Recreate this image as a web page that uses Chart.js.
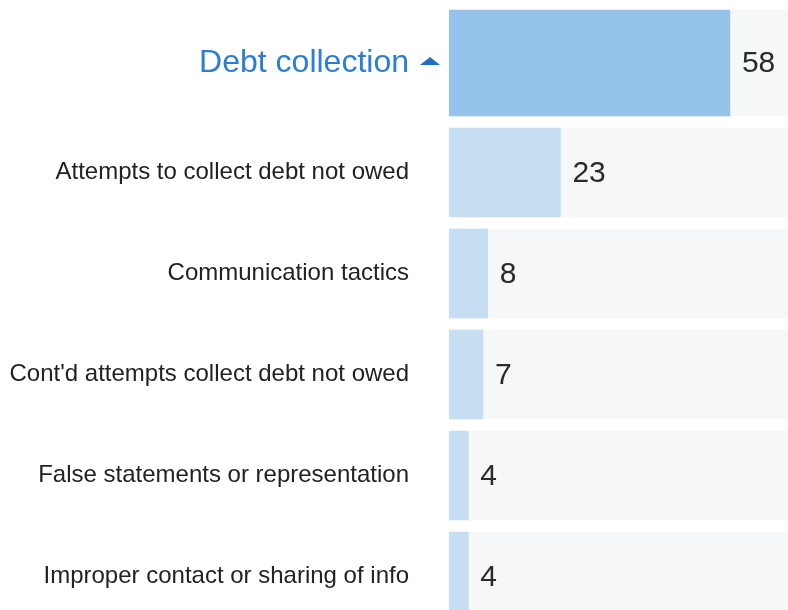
<!DOCTYPE html>
<html>
<head>
<meta charset="utf-8">
<script src="https://cdn.jsdelivr.net/npm/chart.js@4"></script>
<style>
  html, body { margin: 0; padding: 0; background: #fff; overflow: hidden; }
  #wrap { width: 788px; height: 610px; overflow: hidden; }
</style>
</head>
<body>
<div id="wrap"><canvas id="chart" width="788" height="627"></canvas></div>
<script>
// parent row + its sub-issues
const parentLabel = 'Debt collection';
const parentValue = [58];
const subLabels = [
  'Attempts to collect debt not owed',
  'Communication tactics',
  "Cont'd attempts collect debt not owed",
  'False statements or representation',
  'Improper contact or sharing of info'
];
const subValues = [23, 8, 7, 4, 4];
const axisMax = 70;

const FONT = '"Liberation Sans", Arial, Helvetica, sans-serif';

// draws the numbers after each bar and the little caret next to the parent label
const valueLabels = {
  id: 'valueLabels',
  afterDatasetsDraw(chart) {
    const ctx = chart.ctx;
    ctx.save();
    ctx.font = '30px ' + FONT;
    ctx.fillStyle = '#2b2b2b';
    ctx.textBaseline = 'middle';
    ctx.textAlign = 'left';
    chart.data.datasets.forEach((ds, i) => {
      if (!ds.showValue) return;
      chart.getDatasetMeta(i).data.forEach((bar, j) => {
        ctx.fillText(String(ds.data[j]), bar.x + 12, bar.y + 1);
      });
    });

    // caret
    const y = chart.scales.yP.getPixelForValue(0);
    const x = chart.chartArea.left;
    ctx.fillStyle = '#1f6fc8';
    ctx.beginPath();
    ctx.moveTo(x - 29, y + 2);
    ctx.lineTo(x - 9, y + 2);
    ctx.lineTo(x - 19, y - 6);
    ctx.closePath();
    ctx.fill();
    ctx.restore();
  }
};

const yAxis = (labels, weight, size, color) => ({
  type: 'category',
  labels: labels,
  position: 'left',
  stack: 'rows',
  stackWeight: weight,
  offset: true,
  grid: { display: false, drawTicks: false },
  border: { display: false },
  ticks: {
    autoSkip: false,
    padding: 40,
    color: color,
    font: { family: FONT, size: size }
  },
  afterFit: (scale) => {
    scale.width = 449;
    // tick padding would otherwise push the chart area down
    scale.paddingTop = 0;
    scale.paddingBottom = 0;
  }
});

new Chart(document.getElementById('chart'), {
  type: 'bar',
  data: {
    datasets: [
      {
        data: parentValue,
        yAxisID: 'yP',
        backgroundColor: '#96c3ec',
        barThickness: 106,
        grouped: false,
        order: 1,
        showValue: true
      },
      {
        data: parentValue.map(() => axisMax),
        yAxisID: 'yP',
        backgroundColor: '#f6f7f9',
        barThickness: 106,
        grouped: false,
        order: 2
      },
      {
        data: subValues,
        yAxisID: 'yC',
        backgroundColor: '#c6ddf2',
        barThickness: 89,
        grouped: false,
        order: 1,
        showValue: true
      },
      {
        data: subValues.map(() => axisMax),
        yAxisID: 'yC',
        backgroundColor: '#f6f7f9',
        barThickness: 89,
        grouped: false,
        order: 2
      }
    ]
  },
  options: {
    indexAxis: 'y',
    responsive: false,
    animation: false,
    layout: { padding: { top: 4, right: 0, bottom: 0, left: 0 } },
    plugins: {
      legend: { display: false },
      tooltip: { enabled: false }
    },
    scales: {
      x: { type: 'linear', min: 0, max: axisMax, display: false },
      yC: yAxis(subLabels, 505, 24, '#222222'),
      yP: yAxis([parentLabel], 118, 32, '#2a7dd8')
    }
  },
  plugins: [valueLabels]
});
</script>
</body>
</html>
